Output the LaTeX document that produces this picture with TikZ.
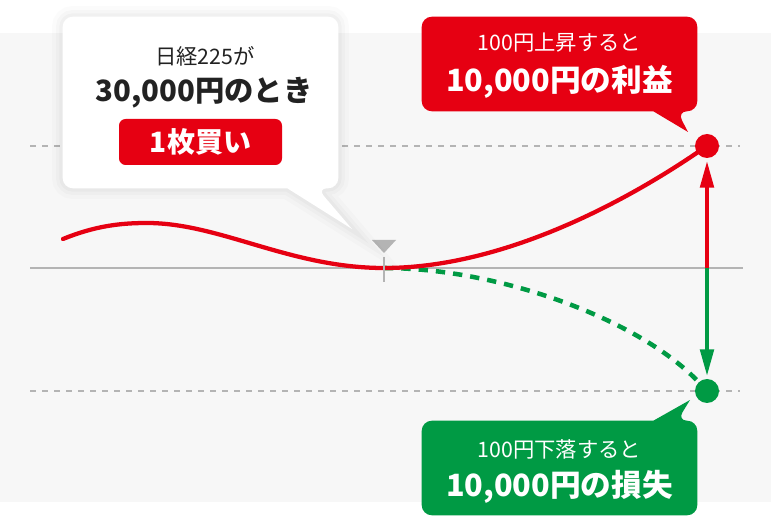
\documentclass[tikz,border=0pt]{standalone}
\usepackage{fontspec}
\setmainfont{Noto Sans CJK JP}
\usetikzlibrary{arrows.meta, positioning, shapes.geometric}
\definecolor{nkred}{HTML}{E60012}
\definecolor{nkgreen}{HTML}{009A44}
\definecolor{nkgray}{HTML}{B4B4B4}
\definecolor{nkback}{HTML}{F7F7F7}
\definecolor{nktext}{HTML}{222222}

\begin{document}
\begin{tikzpicture}[x=0.75pt, y=-0.75pt]
	\tikzstyle{bubble} = [rectangle, minimum width=206.25pt, minimum height=70.5pt, inner sep=0pt]
	\tikzstyle{smalltext} = [font=\fontsize{16}{18}\selectfont]
	\tikzstyle{bigtext} = [font=\bfseries\fontsize{23}{26}\selectfont]
	\tikzstyle{dot} = [circle, minimum size=18pt, inner sep=0pt]
	\tikzstyle{guide} = [nkgray, line width=1.1pt, dash pattern=on 4.5pt off 4.5pt]
	\tikzstyle{arrow} = [line width=3pt, shorten >=2pt, -{Triangle[length=20pt, width=10pt]}]
	\tikzstyle{softshadow} = [preaction={draw=black, draw opacity=.015, line width=16pt},
		preaction={draw=black, draw opacity=.02, line width=10pt},
		preaction={draw=black, draw opacity=.025, line width=5pt}]

	\useasboundingbox (0,0) rectangle (771,516);
	\fill[nkback] (0,33) rectangle (771,502);

	% guide lines
	\draw[guide] (30,146) -- (740,146);
	\draw[guide] (30,391) -- (740,391);
	\draw[nkgray, line width=1.5pt] (30,268) -- (743,268);

	% points
	\coordinate (start) at (63,239);
	\coordinate (peak) at (147,223);
	\coordinate (buy) at (384,268);
	\coordinate (mid) at (707,268);
	\node[dot, fill=nkred] (up) at (707,146) {};
	\node[dot, fill=nkgreen] (down) at (707,391) {};

	% price paths
	\draw[nkgreen, line width=3.4pt, dash pattern=on 7pt off 6pt] (buy) .. controls (500,268) and (640,320) .. (down);
	\draw[nkred, line width=3.2pt, line cap=round] (start) .. controls (95,226) and (120,223) .. (peak)
		.. controls (220,223) and (290,268) .. (buy) .. controls (500,268) and (620,205) .. (up);

	% entry marker
	\fill[nkgray] (372,240) -- (396,240) -- (384,253) -- cycle;
	\draw[nkgray, line width=1.5pt] (384,257) -- (384,282);

	\draw[arrow, nkred] (mid) -- (up);
	\draw[arrow, nkgreen] (mid) -- (down);

	% condition bubble
	\node[bubble, minimum height=128.25pt] (cond) at (200.5,102.5) {};
	\coordinate (tipbuy) at (352,229);
	\path[fill=white, softshadow, rounded corners=7.5pt] (cond.north west) -- (cond.north east) -- (cond.south east)
		-- ([xshift=-15.75pt]cond.south east) [sharp corners] -- (tipbuy) -- ([xshift=-38.25pt]cond.south east)
		[rounded corners=7.5pt] -- (cond.south west) -- cycle;
	\node[smalltext, text=nktext] (nikkei) at (205,56) {日経225が};
	\node[bigtext, text=nktext, font=\bfseries\fontsize{22}{25}\selectfont] (price) at (204,93) {30,000円のとき};
	\node[rectangle, rounded corners=5pt, fill=nkred, text=white, minimum width=122.25pt, minimum height=34.5pt,
		font=\bfseries\fontsize{21}{24}\selectfont] (tag) at (200.5,142) {1枚買い};

	% gain bubble
	\node[bubble] (gain) at (559.5,64) {};
	\coordinate (tipup) at (688,132);
	\path[fill=nkred, rounded corners=7.5pt] (gain.north west) -- (gain.north east) -- (gain.south east)
		-- ([xshift=-15pt]gain.south east) [sharp corners] -- (tipup) -- ([xshift=-33pt]gain.south east)
		[rounded corners=7.5pt] -- (gain.south west) -- cycle;
	\node[smalltext, text=white] (gainnote) at (559.5,43) {100円上昇すると};
	\node[bigtext, text=white] (gainvalue) at (559.5,82) {10,000円の利益};

	% loss bubble
	\node[bubble] (loss) at (559.5,468) {};
	\coordinate (tipdown) at (690,400);
	\path[fill=nkgreen, rounded corners=7.5pt] (loss.south west) -- (loss.south east) -- (loss.north east)
		-- ([xshift=-15pt]loss.north east) [sharp corners] -- (tipdown) -- ([xshift=-33pt]loss.north east)
		[rounded corners=7.5pt] -- (loss.north west) -- cycle;
	\node[smalltext, text=white] (lossnote) at (559.5,449) {100円下落すると};
	\node[bigtext, text=white] (lossvalue) at (559.5,487) {10,000円の損失};
\end{tikzpicture}
\end{document}
